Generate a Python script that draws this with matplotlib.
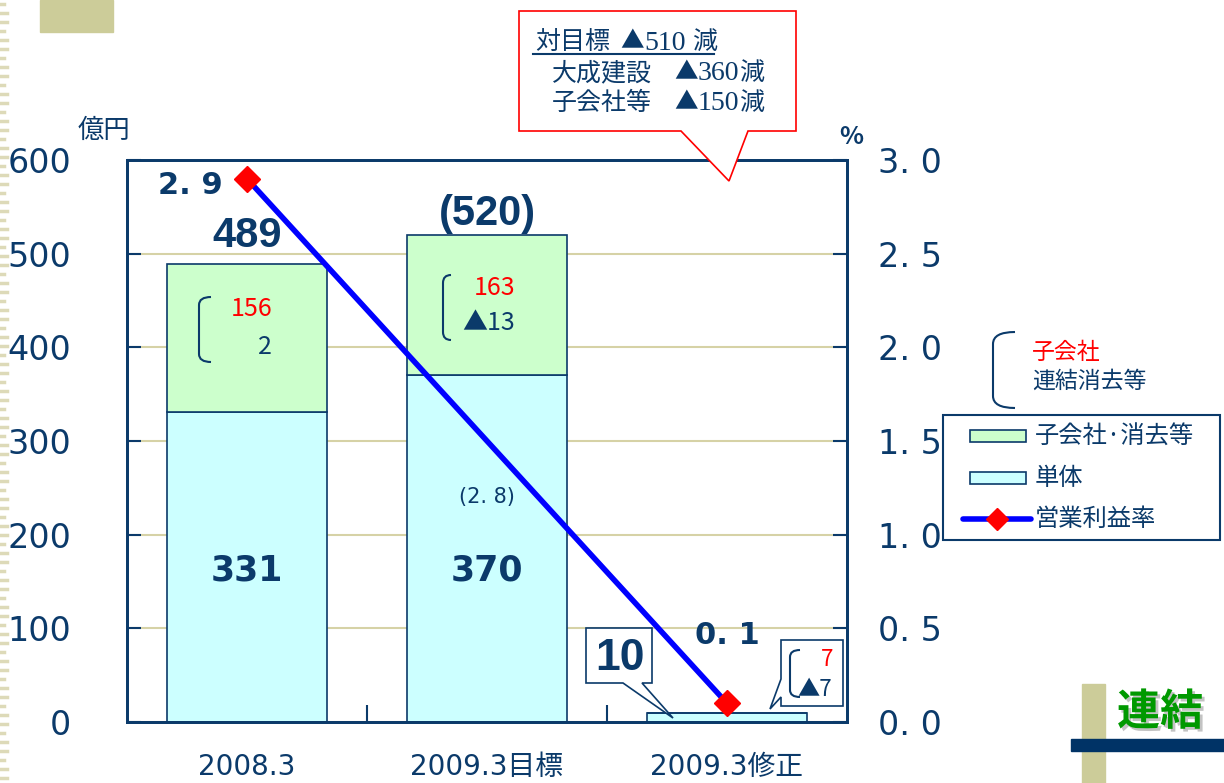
import numpy as np
import matplotlib.pyplot as plt
import matplotlib.patheffects as pe
from matplotlib.patches import Rectangle, Polygon, PathPatch
from matplotlib.path import Path

plt.rcParams['font.family'] = ['Noto Sans CJK JP', 'DejaVu Sans']

NAVY = '#0B3A6A'
CYAN = '#CCFFFF'
GREEN = '#CCFFCC'
TAN = '#CCCC99'
LINE_BLUE = '#0000FF'
SANS = ['DejaVu Sans', 'Noto Sans CJK JP']
NARROW = ['Liberation Sans', 'DejaVu Sans']
SERIF = ['Liberation Serif', 'Noto Sans CJK JP']

# 営業利益 (億円)
categories = ['2008.3', '2009.3目標', '2009.3修正']
parent = [331, 370, 10]          # 単体
subsidiaries = [156, 163, 7]     # 子会社
eliminations = [2, -13, -7]      # 連結消去等
bracket_total = [False, True, False]

# 営業利益率 (%)
margin_pos = [0, 2]
margin = [2.9, 0.1]
target_margin = 2.8

# 対目標の減少内訳
gap_parent = 360
gap_subs = 150

left_ticks = [0, 100, 200, 300, 400, 500, 600]
right_ticks = [0.0, 0.5, 1.0, 1.5, 2.0, 2.5, 3.0]


def tri(v):
    return f'▲{abs(v)}' if v < 0 else f'{v}'


def pct(v):
    return f'{v:.1f}'.replace('.', '. ')


def bracket(axd, x0, x1, ytop, ybot, r):
    verts = [(x1, ytop), (x0, ytop), (x0, ytop + r), (x0, ybot - r), (x0, ybot), (x1, ybot)]
    codes = [Path.MOVETO, Path.CURVE3, Path.CURVE3, Path.LINETO, Path.CURVE3, Path.CURVE3]
    axd.add_patch(PathPatch(Path(verts, codes), fill=False, ec=NAVY, lw=1.5))


others = [s + e for s, e in zip(subsidiaries, eliminations)]
totals = [p + o for p, o in zip(parent, others)]
x = np.arange(len(categories))

fig = plt.figure(figsize=(12.24, 7.83), dpi=100)
ax = fig.add_axes([127 / 1224, 61 / 783, 720 / 1224, 562 / 783])

ax.bar(x, parent, width=0.667, color=CYAN, edgecolor=NAVY, lw=1.2, zorder=2)
ax.bar(x, others, bottom=parent, width=0.667, color=GREEN, edgecolor=NAVY, lw=1.2, zorder=2)

ax.set_xlim(-0.5, 2.5)
ax.set_ylim(0, 600)
ax.set_yticks(left_ticks)
ax.yaxis.grid(True, color='#D6D2A6', lw=1.5)
ax.set_axisbelow(True)
ax.tick_params(axis='y', direction='in', length=10, width=1.5, color=NAVY,
               labelsize=24, labelcolor=NAVY, pad=40)
ax.set_xticks(x, categories)
ax.tick_params(axis='x', length=0, labelsize=20, labelcolor=NAVY, pad=22)
ax.set_xticks([0.5, 1.5], minor=True)
ax.tick_params(axis='x', which='minor', direction='in', length=12, width=1.5, color=NAVY)
for lab in ax.get_xticklabels() + ax.get_yticklabels():
    lab.set_family(SANS)
for s in ax.spines.values():
    s.set_color(NAVY)
    s.set_linewidth(2)

# totals above the first two bars
for i, t in enumerate(totals[:2]):
    txt = f'({t})' if bracket_total[i] else f'{t}'
    off = 15 if bracket_total[i] else 20
    ax.annotate(txt, (x[i], t), xytext=(0, off), textcoords='offset points',
                ha='center', va='center', fontsize=30, fontweight='bold', color=NAVY,
                family=NARROW)
for i in range(2):
    ax.text(x[i], 162, f'{parent[i]}', ha='center', va='center', fontsize=25,
            fontweight='bold', color=NAVY, family=SANS)
ax.text(x[1], 240, f'({pct(target_margin)})', ha='center', va='center',
        fontsize=15, color=NAVY, family=SANS)

ax2 = ax.twinx()
ax2.set_ylim(0, 3.0)
ax2.set_yticks(right_ticks, [pct(v) for v in right_ticks])
ax2.tick_params(axis='y', direction='in', length=10, width=1.5, color=NAVY,
                labelsize=24, labelcolor=NAVY, pad=22)
for lab in ax2.get_yticklabels():
    lab.set_family(SANS)
for s in ax2.spines.values():
    s.set_color(NAVY)
    s.set_linewidth(2)
ax2.plot(margin_pos, margin, color=LINE_BLUE, lw=4, marker='D', ms=13,
         mfc='red', mec='red', zorder=5, clip_on=False)
ax2.annotate(pct(margin[0]), (margin_pos[0], margin[0]), xytext=(-41, -5),
             textcoords='offset points', ha='center', va='center',
             fontsize=22, fontweight='bold', color=NAVY, family=SANS)
ax2.annotate(pct(margin[1]), (margin_pos[1], margin[1]), xytext=(0, 49),
             textcoords='offset points', ha='center', va='center',
             fontsize=22, fontweight='bold', color=NAVY, family=SANS)

# overlay in pixel coordinates for callouts and decorations
deco = fig.add_axes([0, 0, 1, 1])
deco.set_xlim(0, 1224)
deco.set_ylim(783, 0)
deco.axis('off')

deco.add_patch(Rectangle((40, 0), 73, 32, color=TAN))
for k, yy in enumerate(range(4, 783, 9)):
    deco.plot([0, 7 if k % 3 else 4], [yy, yy], color='#DDDAB8', lw=2.5)

deco.text(104, 130, '億円', fontsize=19, color=NAVY, ha='center', va='center')
deco.text(851, 137, '%', fontsize=18, color=NAVY, ha='center', va='center', fontweight='bold')

# 対目標 callout
deco.add_patch(Polygon([(519, 11), (796, 11), (796, 131), (748, 131), (729, 181),
                        (681, 131), (519, 131)], closed=True, fc='white', ec='red', lw=1.2))
callout_rows = [
    (42, 535, '対目標', 620, gap_parent + gap_subs, 692),
    (73, 552, '大成建設', 674, gap_parent, 739),
    (103, 552, '子会社等', 674, gap_subs, 739),
]
for yy, xl, name, xv, val, xt in callout_rows:
    deco.text(xl, yy, name, fontsize=18, color=NAVY, va='center')
    deco.text(xv, yy, '▲', fontsize=17, color=NAVY, va='center')
    deco.text(xv + 24, yy + 1, f'{val}', fontsize=20, color=NAVY, va='center', family=SERIF)
    deco.text(xt, yy, '減', fontsize=18, color=NAVY, va='center')
deco.plot([533, 714], [54, 54], color=NAVY, lw=1.5)

# breakdown of the green segment
bracket(deco, 199, 211, 297, 362, 8)
deco.text(252, 309, tri(subsidiaries[0]), fontsize=18, color='red', ha='center', va='center')
deco.text(265, 347, tri(eliminations[0]), fontsize=18, color=NAVY, ha='center', va='center')
bracket(deco, 443, 451, 275, 340, 8)
deco.text(495, 288, tri(subsidiaries[1]), fontsize=18, color='red', ha='center', va='center')
deco.text(489, 323, tri(eliminations[1]), fontsize=18, color=NAVY, ha='center', va='center')

# 2009.3修正 callouts
deco.add_patch(Polygon([(586, 628), (652, 628), (652, 683), (642, 683), (673, 718),
                        (623, 683), (586, 683)], closed=True, fc='white', ec=NAVY, lw=1.2))
deco.text(620, 659, f'{totals[2]}', fontsize=32, fontweight='bold', color=NAVY,
          ha='center', va='center', family=NARROW)
deco.add_patch(Polygon([(781, 640), (843, 640), (843, 706), (781, 706), (781, 697),
                        (770, 709), (781, 679)], closed=True, fc='white', ec=NAVY, lw=1.2))
bracket(deco, 790, 800, 650, 697, 7)
deco.text(827, 659, tri(subsidiaries[2]), fontsize=16, color='red', ha='center', va='center')
deco.text(815, 689, tri(eliminations[2]), fontsize=16, color=NAVY, ha='center', va='center')

# legend
bracket(deco, 993, 1015, 332, 408, 12)
deco.text(1032, 352, '子会社', fontsize=16.5, color='red', va='center')
deco.text(1032, 381, '連結消去等', fontsize=16.5, color=NAVY, va='center')
deco.add_patch(Rectangle((943, 415), 277, 125, fc='white', ec=NAVY, lw=1.5))
deco.add_patch(Rectangle((970, 430), 56, 12, fc=GREEN, ec=NAVY, lw=1.2))
deco.add_patch(Rectangle((970, 472), 56, 12, fc=CYAN, ec=NAVY, lw=1.2))
deco.plot([963, 1031], [519, 519], color=LINE_BLUE, lw=4, solid_capstyle='round')
deco.plot([997], [519], marker='D', ms=11, mfc='red', mec='red')
for yy, lab in [(436, '子会社·消去等'), (478, '単体'), (519, '営業利益率')]:
    deco.text(1035, yy, lab, fontsize=17.5, color=NAVY, va='center')

# 連結 badge
deco.add_patch(Rectangle((1082, 684), 23, 99, color=TAN))
deco.add_patch(Rectangle((1071, 739), 153, 12, color='#003366'))
deco.text(1160, 712, '連結', fontsize=31, fontweight='bold', color='#009900', ha='center',
          va='center', path_effects=[pe.withSimplePatchShadow(offset=(2, -2),
                                                               shadow_rgbFace='#888888', alpha=0.5)])

fig.savefig('out.png', dpi=100)
